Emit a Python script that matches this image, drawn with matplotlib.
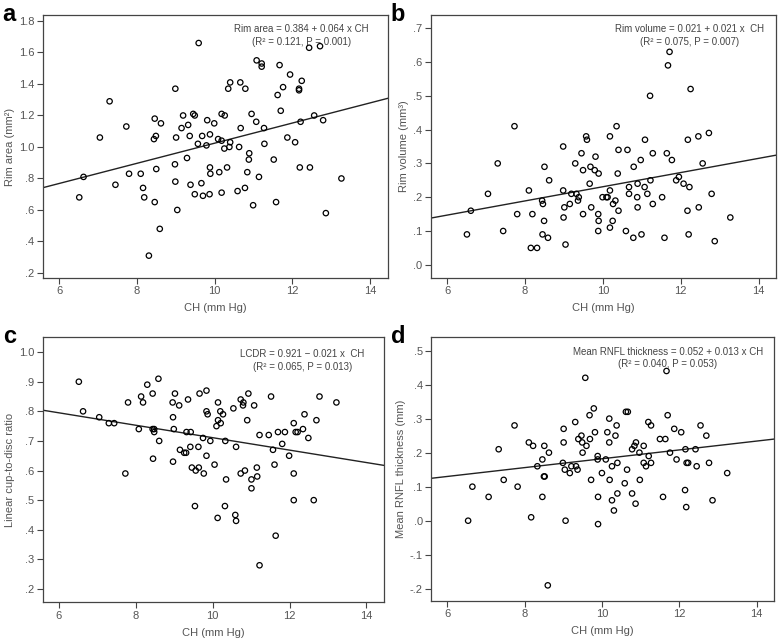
import matplotlib
matplotlib.use('Agg')
import matplotlib.pyplot as plt
import numpy as np

plt.rcParams['font.family'] = ['Liberation Sans', 'DejaVu Sans']

# panel a: rim area vs CH
ch_a = [6.52, 6.63, 7.05, 7.30, 7.45, 7.73, 7.80, 8.10, 8.16, 8.19, 8.31, 8.46, 8.44, 8.49,
        8.50, 8.46, 8.62, 8.59, 8.99, 9.01, 8.98, 8.99, 9.04, 9.15, 9.19, 9.29, 9.32, 9.36,
        9.38, 9.45, 9.49, 9.49, 9.57, 9.59, 9.66, 9.68, 9.70, 9.79, 9.81, 9.88, 9.88, 9.89,
        9.87, 9.99, 10.09, 10.12, 10.18, 10.18, 10.18, 10.26, 10.25, 10.32, 10.35, 10.40,
        10.38, 10.40, 10.59, 10.63, 10.66, 10.67, 10.79, 10.78, 10.88, 10.89, 10.84, 10.95,
        10.99, 11.07, 11.08, 11.14, 11.21, 11.21, 11.27, 11.28, 11.52, 11.58, 11.62, 11.67,
        11.70, 11.76, 11.87, 11.94, 12.07, 12.17, 12.17, 12.19, 12.21, 12.24, 12.43, 12.45,
        12.56, 12.71, 12.79, 12.86, 13.26]
rim_area = [0.68, 0.81, 1.06, 1.29, 0.76, 1.13, 0.83, 0.83, 0.74, 0.68, 0.31, 1.18, 1.05, 1.07,
            0.86, 0.65, 1.15, 0.48, 1.37, 1.06, 0.89, 0.78, 0.60, 1.12, 1.20, 0.93, 1.14, 1.07,
            0.76, 1.21, 1.20, 0.70, 1.02, 1.66, 0.77, 1.07, 0.69, 1.01, 1.17, 1.08, 0.87, 0.83,
            0.70, 1.15, 1.05, 0.84, 1.21, 1.04, 0.71, 1.20, 0.99, 0.87, 1.37, 1.41,
            1.00, 1.03, 0.72, 1.00, 1.41, 1.12, 1.37, 0.74, 0.92, 0.96, 0.84, 1.21,
            0.63, 1.16, 1.55, 0.81, 1.53, 1.51, 1.12, 1.02, 0.92, 0.65, 1.33, 1.52,
            1.23, 1.38, 1.06, 1.46, 1.03, 1.36, 1.37, 0.87, 1.16, 1.42, 1.63, 0.87,
            1.20, 1.64, 1.17, 0.58, 0.80]

# panel b: rim volume vs CH
ch_b = [6.51, 6.61, 7.05, 7.30, 7.44, 7.73, 7.80, 8.10, 8.15, 8.19, 8.31, 8.44, 8.46, 8.50,
        8.49, 8.45, 8.59, 8.62, 8.98, 8.98, 9.01, 8.99, 9.04, 9.15, 9.19, 9.29, 9.32, 9.36,
        9.38, 9.45, 9.49, 9.49, 9.57, 9.59, 9.66, 9.68, 9.70, 9.79, 9.81, 9.89, 9.88, 9.89,
        9.88, 9.99, 10.09, 10.12, 10.18, 10.18, 10.18, 10.26, 10.25, 10.32, 10.35, 10.40,
        10.38, 10.40, 10.59, 10.63, 10.67, 10.67, 10.79, 10.78, 10.88, 10.89, 10.89, 10.97,
        10.99, 11.07, 11.08, 11.14, 11.21, 11.22, 11.28, 11.28, 11.52, 11.58, 11.64, 11.67,
        11.71, 11.77, 11.88, 11.95, 12.07, 12.18, 12.17, 12.20, 12.22, 12.25, 12.45, 12.46,
        12.56, 12.72, 12.79, 12.87, 13.27]
rim_volume = [0.09, 0.16, 0.21, 0.30, 0.10, 0.41, 0.15, 0.22, 0.05, 0.15, 0.05, 0.19, 0.18, 0.29,
              0.13, 0.09, 0.08, 0.25, 0.35, 0.22, 0.17, 0.14, 0.06, 0.18, 0.21, 0.30, 0.21, 0.19,
              0.20, 0.33, 0.28, 0.15, 0.38, 0.37, 0.24, 0.29, 0.17, 0.28, 0.32, 0.27, 0.15, 0.13,
              0.10, 0.20, 0.20, 0.20, 0.38, 0.22, 0.11, 0.18, 0.13, 0.19, 0.41, 0.34,
              0.27, 0.16, 0.10, 0.34, 0.23, 0.21, 0.29, 0.08, 0.20, 0.24, 0.17, 0.31,
              0.09, 0.23, 0.37, 0.21, 0.50, 0.25, 0.33, 0.18, 0.20, 0.08, 0.33, 0.59,
              0.63, 0.31, 0.25, 0.26, 0.24, 0.37, 0.16, 0.09, 0.23, 0.52, 0.38, 0.17,
              0.30, 0.39, 0.21, 0.07, 0.14]

# panel c: linear cup-to-disc ratio vs CH
ch_c = [6.52, 6.63, 7.05, 7.30, 7.44, 7.73, 7.80, 8.08, 8.14, 8.19, 8.30, 8.44, 8.44, 8.48,
        8.48, 8.45, 8.59, 8.61, 8.96, 8.97, 8.99, 8.97, 9.02, 9.13, 9.15, 9.26, 9.31, 9.36,
        9.32, 9.43, 9.42, 9.46, 9.54, 9.56, 9.66, 9.64, 9.63, 9.75, 9.77, 9.84, 9.84, 9.87,
        9.84, 9.94, 10.05, 10.10, 10.14, 10.14, 10.13, 10.20, 10.21, 10.27, 10.32, 10.33,
        10.35, 10.54, 10.59, 10.61, 10.61, 10.73, 10.80, 10.79, 10.73, 10.84, 10.90, 10.93,
        11.01, 11.01, 11.08, 11.15, 11.16, 11.22, 11.22, 11.46, 11.52, 11.57, 11.61, 11.64,
        11.70, 11.81, 11.88, 11.99, 12.11, 12.11, 12.11, 12.16, 12.21, 12.35, 12.39, 12.49,
        12.63, 12.70, 12.78, 13.22]
lcdr = [0.90, 0.80, 0.78, 0.76, 0.76, 0.59, 0.83, 0.74, 0.85, 0.83, 0.89, 0.86, 0.74, 0.74,
        0.73, 0.64, 0.91, 0.70, 0.83, 0.78, 0.74, 0.63, 0.86, 0.82, 0.67, 0.66, 0.66, 0.84,
        0.73, 0.73, 0.68, 0.61, 0.48, 0.60, 0.86, 0.61, 0.68, 0.71, 0.59, 0.87, 0.80, 0.79,
        0.65, 0.70, 0.62, 0.75, 0.83, 0.77, 0.44, 0.80, 0.76, 0.79, 0.48, 0.70,
        0.57, 0.81, 0.45, 0.43, 0.68, 0.84, 0.83, 0.82, 0.59, 0.60, 0.77, 0.86,
        0.57, 0.54, 0.82, 0.61, 0.58, 0.72, 0.28, 0.72, 0.85, 0.67, 0.62, 0.38,
        0.73, 0.69, 0.73, 0.65, 0.76, 0.59, 0.50, 0.73, 0.73, 0.74, 0.79, 0.71,
        0.50, 0.77, 0.85, 0.83]

# panel d: mean RNFL thickness vs CH
ch_d = [6.54, 6.65, 7.07, 7.33, 7.46, 7.74, 7.82, 8.11, 8.17, 8.22, 8.33, 8.46, 8.46, 8.50,
        8.52, 8.51, 8.63, 8.60, 9.01, 9.01, 8.99, 9.04, 9.06, 9.17, 9.21, 9.31, 9.33, 9.37,
        9.39, 9.47, 9.49, 9.50, 9.57, 9.60, 9.68, 9.69, 9.72, 9.79, 9.82, 9.89, 9.89, 9.90,
        9.90, 10.00, 10.10, 10.14, 10.19, 10.19, 10.20, 10.26, 10.26, 10.31, 10.35, 10.38,
        10.40, 10.40, 10.62, 10.67, 10.65, 10.59, 10.78, 10.78, 10.84, 10.88, 10.87, 10.97,
        10.98, 11.08, 11.08, 11.14, 11.20, 11.21, 11.27, 11.27, 11.50, 11.58, 11.64, 11.67,
        11.70, 11.76, 11.87, 11.93, 12.05, 12.16, 12.15, 12.18, 12.19, 12.23, 12.42, 12.45,
        12.55, 12.70, 12.77, 12.86, 13.24]
rnfl = [0.00, 0.10, 0.07, 0.21, 0.12, 0.28, 0.10, 0.23, 0.01, 0.22, 0.16, 0.18, 0.07, 0.13,
        0.13, 0.22, 0.20, -0.19, 0.27, 0.23, 0.17, 0.15, 0.00, 0.14, 0.16, 0.29, 0.16, 0.15,
        0.24, 0.25, 0.23, 0.20, 0.42, 0.22, 0.31, 0.24, 0.12, 0.33, 0.26, 0.18, 0.19, 0.07,
        -0.01, 0.14, 0.18, 0.26, 0.30, 0.23, 0.12, 0.16, 0.06, 0.03, 0.25, 0.28,
        0.17, 0.08, 0.32, 0.32, 0.15, 0.11, 0.21, 0.08, 0.22, 0.23, 0.05, 0.20,
        0.12, 0.22, 0.17, 0.16, 0.29, 0.19, 0.28, 0.17, 0.24, 0.07, 0.24, 0.44,
        0.31, 0.20, 0.27, 0.18, 0.26, 0.21, 0.09, 0.04, 0.17, 0.17, 0.21, 0.16,
        0.28, 0.25, 0.17, 0.06, 0.14]

# regression coefficients (intercept, slope) and annotations
fits = [(0.384, 0.064), (0.021, 0.021), (0.921, -0.021), (0.052, 0.013)]
eq_text = ['Rim area = 0.384 + 0.064 x CH\n(R\u00b2 = 0.121, P = 0.001)',
           'Rim volume = 0.021 + 0.021 x  CH\n(R\u00b2 = 0.075, P = 0.007)',
           'LCDR = 0.921 \u2212 0.021 x  CH\n(R\u00b2 = 0.065, P = 0.013)',
           'Mean RNFL thickness = 0.052 + 0.013 x CH\n(R\u00b2 = 0.040, P = 0.053)']
ylabels = ['Rim area (mm\u00b2)', 'Rim volume (mm\u00b3)', 'Linear cup-to-disc ratio',
           'Mean RNFL thickness (mm)']
letters = ['a', 'b', 'c', 'd']
yticks = [np.arange(0.2, 1.81, 0.2), np.arange(0.0, 0.71, 0.1),
          np.arange(0.2, 1.01, 0.1), np.arange(-0.2, 0.51, 0.1)]
ylims = [(0.168, 1.838), (-0.039, 0.739), (0.155, 1.05), (-0.236, 0.539)]
eq_x = [0.749, 0.749, 0.762, 0.69]
eq_y = [0.965, 0.965, 0.955, 0.965]
xs = [ch_a, ch_b, ch_c, ch_d]
ys = [rim_area, rim_volume, lcdr, rnfl]

W, H = 778, 639
# axes boxes in pixels: left, top, right, bottom
boxes = [(42.7, 15, 387.7, 278), (430.7, 15, 776.3, 278),
         (42.7, 337.3, 383.7, 602.3), (431, 337.3, 774, 601)]

fig = plt.figure(figsize=(W / 100, H / 100), dpi=100)
gray = '#555555'

def fmt(v):
    s = '%.1f' % v
    if s.startswith('0.'):
        s = s[1:]
    elif s.startswith('-0.'):
        s = '-' + s[2:]
    return s

for i in range(4):
    l, t, r, b = boxes[i]
    ax = fig.add_axes([l / W, 1 - b / H, (r - l) / W, (b - t) / H])
    ax.scatter(xs[i], ys[i], s=15, facecolors='none', edgecolors='black', linewidths=0.9, zorder=3)
    xlim = (5.58, 14.45)
    a0, a1 = fits[i]
    xl = np.array(xlim)
    ax.plot(xl, a0 + a1 * xl, color='#222222', lw=1.0)
    ax.set_xlim(xlim)
    ax.set_ylim(ylims[i])
    ax.set_xticks([6, 8, 10, 12, 14])
    ax.set_yticks(yticks[i])
    ax.set_yticklabels([fmt(v) for v in yticks[i]])
    ax.tick_params(direction='out', length=4, width=0.8, colors='#444444',
                   labelsize=8, labelcolor=gray, pad=2)
    for sp in ax.spines.values():
        sp.set_color('#444444')
        sp.set_linewidth(0.9)
    ax.set_xlabel('CH (mm Hg)', fontsize=8, color=gray, labelpad=5)
    ax.set_ylabel(ylabels[i], fontsize=8, color=gray, labelpad=3)
    ax.text(eq_x[i], eq_y[i], eq_text[i], transform=ax.transAxes, ha='center', va='top',
            fontsize=7, color='#444444', linespacing=1.35)
    fig.text((l - 40) / W, 1 - (t - 12) / H, letters[i], fontsize=17, fontweight='bold',
             ha='left', va='top')

fig.savefig('out.png', dpi=100)
